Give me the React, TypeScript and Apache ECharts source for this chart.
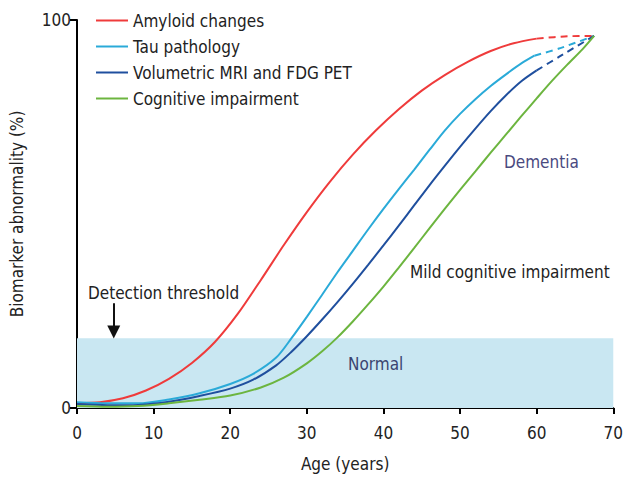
import React, { useEffect, useRef } from "react";
import * as echarts from "echarts";

const FONT = "'DejaVu Sans Condensed', 'Liberation Sans Narrow', 'DejaVu Sans', sans-serif";

const seriesNames = ["Amyloid changes", "Tau pathology", "Volumetric MRI and FDG PET", "Cognitive impairment"];
const seriesColors = ["#ef3b3b", "#2aaad8", "#1f4f9e", "#6cb53f"];

const amyloidAge = [0, 3, 6, 9, 12, 15, 18, 21, 24, 27, 30, 33, 36, 39, 42, 45, 48, 51, 54, 57, 60];
const amyloidVal = [1.3, 1.5, 2.5, 4.5, 7.5, 11.6, 17, 24.3, 33, 42, 50.5, 58.3, 65.3, 71.5, 77, 81.8, 85.8, 89.2, 92, 94, 95.2];
const amyloidDashAge = [60, 64, 67.5];
const amyloidDashVal = [95.2, 95.8, 95.9];

const tauAge = [0, 4, 8, 12, 16, 20, 23, 26, 28, 30, 32, 34, 36, 38, 40, 42, 44, 46, 48, 50, 52, 54, 56, 58, 59.7];
const tauVal = [1.5, 1.2, 1.2, 2.2, 3.8, 6.2, 8.8, 13, 18, 23.5, 29.2, 35, 40.5, 46, 51.3, 56.4, 61.4, 66.5, 71.5, 75.8, 79.6, 83, 86, 88.8, 90.8];
const tauDashAge = [59.7, 63, 67.5];
const tauDashVal = [90.8, 92.7, 95.9];

const mriAge = [0, 4, 8, 12, 16, 20, 23, 26, 28, 30, 32, 34, 36, 38, 40, 42, 44, 46, 48, 50, 52, 54, 56, 58, 60];
const mriVal = [1, 0.7, 0.8, 1.6, 3.1, 5, 7.3, 11, 14.5, 18.5, 22.8, 27.3, 32, 36.9, 41.9, 47, 52.2, 57.4, 62.4, 67.3, 72, 76.5, 80.6, 84.2, 87];
const mriDashAge = [60, 63, 67.5];
const mriDashVal = [87, 90.6, 95.9];

const cogAge = [0, 4, 8, 12, 16, 20, 24, 27, 30, 32, 34, 36, 38, 40, 42, 44, 46, 48, 50, 52, 54, 56, 58, 60, 62, 64, 66, 67.5];
const cogVal = [0.5, 0.3, 0.5, 1.2, 2.1, 3.2, 5.3, 7.8, 11.5, 14.6, 18.2, 22.3, 26.7, 31.3, 36.2, 41.2, 46.3, 51.3, 56.2, 61, 65.8, 70.5, 75.2, 79.8, 84.3, 88.5, 92.5, 95.9];

const normalBand = [0, 18];
const ageRange = [0, 70];
const thresholdArrow = { age: 4.8, from: 27, to: 19.6 };

const zip = (a: number[], b: number[]) => a.map((x, i) => [x, b[i]]);

export default function App() {
  const ref = useRef<HTMLDivElement>(null);
  useEffect(() => {
    if (!ref.current) return;
    document.body.style.margin = "0";
    const chart = echarts.init(ref.current, null, { renderer: "svg" });
    const solid = (name: string, color: string, data: number[][]) => ({
      name,
      type: "line",
      data,
      smooth: 0.3,
      showSymbol: false,
      symbol: "none",
      z: 3,
      lineStyle: { color, width: 2 },
      itemStyle: { color },
    });
    const dashed = (color: string, data: number[][]) => ({
      type: "line",
      data,
      smooth: 0.3,
      showSymbol: false,
      symbol: "none",
      z: 3,
      lineStyle: { color, width: 2, type: [7, 5] },
      itemStyle: { color },
    });
    const txt = { fontFamily: FONT, fontSize: 17, color: "#222" };
    chart.setOption({
      animation: false,
      textStyle: { fontFamily: FONT },
      grid: { left: 77, right: 12, top: 20, bottom: 66 },
      legend: {
        data: seriesNames,
        orient: "vertical",
        left: 91,
        top: 7,
        itemWidth: 32,
        itemHeight: 2,
        itemGap: 9,
        icon: "rect",
        textStyle: { ...txt, lineHeight: 17 },
      },
      xAxis: {
        type: "value",
        min: ageRange[0],
        max: ageRange[1],
        interval: 10,
        name: "Age (years)",
        nameLocation: "middle",
        nameGap: 47,
        nameTextStyle: txt,
        axisLine: { lineStyle: { color: "#000", width: 2 } },
        axisTick: { length: 6, lineStyle: { color: "#000", width: 2 } },
        axisLabel: { ...txt, margin: 16 },
        splitLine: { show: false },
      },
      yAxis: {
        type: "value",
        min: 0,
        max: 100,
        interval: 100,
        name: "Biomarker abnormality (%)",
        nameLocation: "middle",
        nameGap: 52,
        nameTextStyle: txt,
        axisLine: { show: true, lineStyle: { color: "#000", width: 2 } },
        axisTick: { show: true, length: 7, lineStyle: { color: "#000", width: 2 } },
        axisLabel: { ...txt, margin: 6 },
        splitLine: { show: false },
      },
      series: [
        {
          type: "line",
          data: [[0, 0]],
          showSymbol: false,
          symbol: "none",
          silent: true,
          z: 1,
          lineStyle: { opacity: 0 },
          markArea: {
            silent: true,
            itemStyle: { color: "#c9e7f2", opacity: 1 },
            data: [[{ coord: [ageRange[0], normalBand[0]] }, { coord: [ageRange[1], normalBand[1]] }]],
          },
          markLine: {
            silent: true,
            symbolSize: [13, 13],
            label: { show: false },
            lineStyle: { color: "#111", width: 2, type: "solid" },
            data: [
              [
                { coord: [thresholdArrow.age, thresholdArrow.from], symbol: "none" },
                { coord: [thresholdArrow.age, thresholdArrow.to], symbol: "triangle" },
              ],
            ],
          },
        },
        solid(seriesNames[0], seriesColors[0], zip(amyloidAge, amyloidVal)),
        dashed(seriesColors[0], zip(amyloidDashAge, amyloidDashVal)),
        solid(seriesNames[1], seriesColors[1], zip(tauAge, tauVal)),
        dashed(seriesColors[1], zip(tauDashAge, tauDashVal)),
        solid(seriesNames[2], seriesColors[2], zip(mriAge, mriVal)),
        dashed(seriesColors[2], zip(mriDashAge, mriDashVal)),
        solid(seriesNames[3], seriesColors[3], zip(cogAge, cogVal)),
      ],
      graphic: [
        { type: "text", z: 10, left: 88, top: 284, style: { text: "Detection threshold", fontFamily: FONT, fontSize: 17, fill: "#222" } },
        { type: "text", z: 10, left: 348, top: 355, style: { text: "Normal", fontFamily: FONT, fontSize: 17, fill: "#3b4570" } },
        { type: "text", z: 10, left: 504, top: 153, style: { text: "Dementia", fontFamily: FONT, fontSize: 17, fill: "#4a4a80" } },
        { type: "text", z: 10, left: 410, top: 263, style: { text: "Mild cognitive impairment", fontFamily: FONT, fontSize: 17, fill: "#222" } },
      ],
    });
    return () => chart.dispose();
  }, []);
  return <div ref={ref} style={{ width: 626, height: 477 }} />;
}
